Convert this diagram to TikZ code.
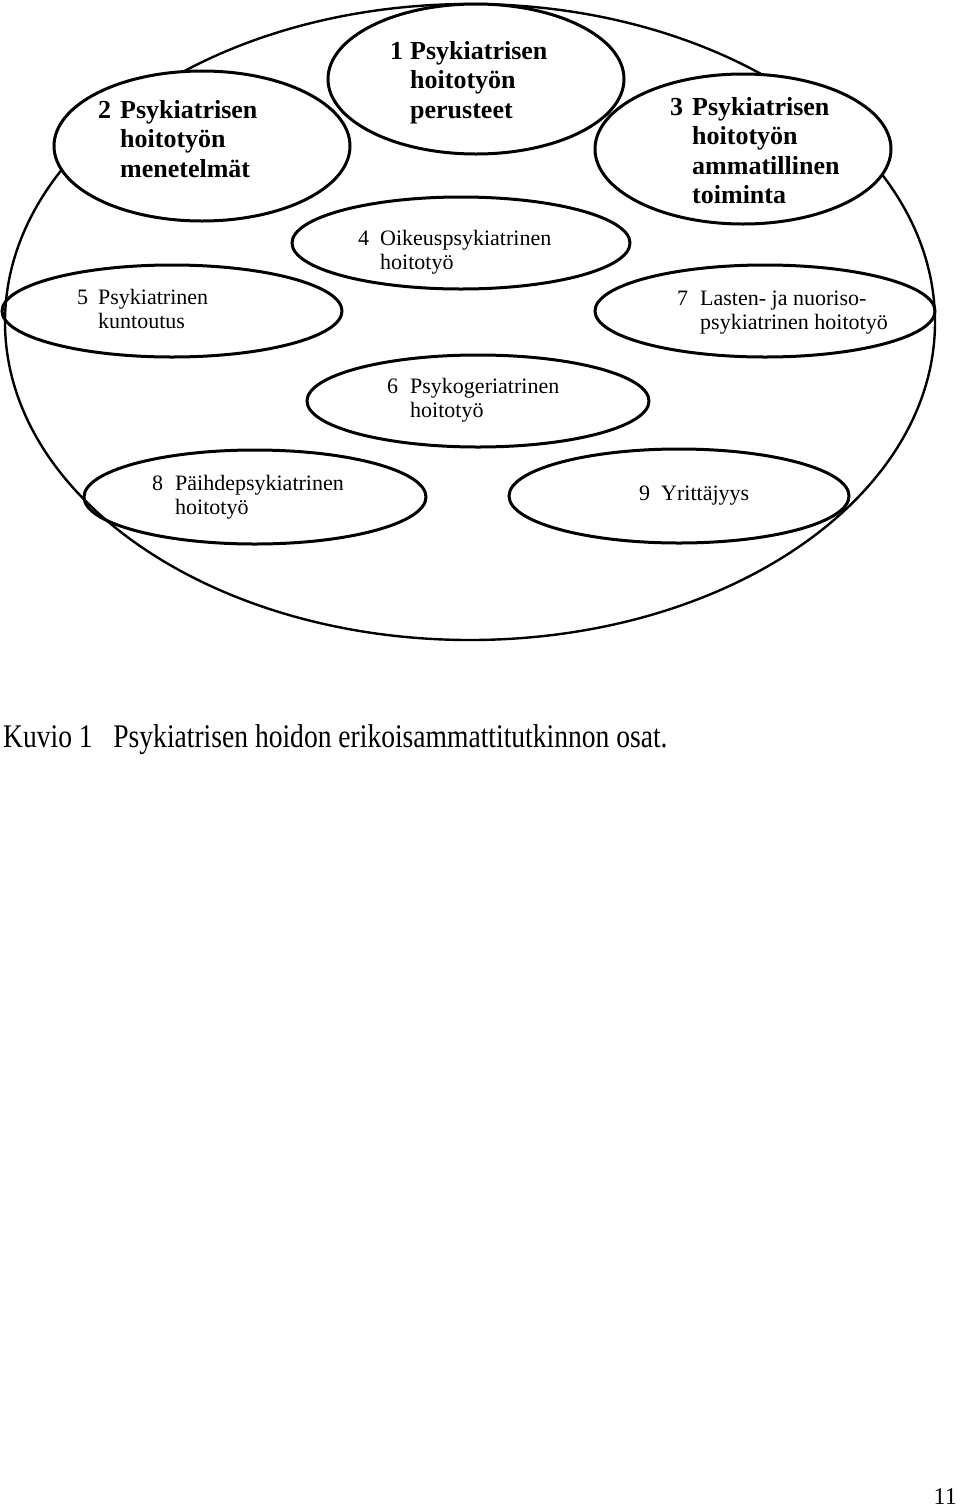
\documentclass[tikz,border=0pt]{standalone}
\usepackage{fontspec}
\setmainfont{Liberation Serif}
\usetikzlibrary{shapes.geometric}
\tikzset{
  bigring/.style={draw, ellipse, line width=2.4pt, inner sep=0pt},
  topic/.style={draw, ellipse, line width=3pt, inner sep=0pt},
  boldtxt/.style={anchor=base west, inner sep=0pt, font=\fontsize{26}{29.5}\selectfont\bfseries},
  plaintxt/.style={anchor=base west, inner sep=0pt, font=\fontsize{22}{24}\selectfont},
}
\begin{document}
\begin{tikzpicture}[x=1pt,y=-1pt]
\useasboundingbox (0,0) rectangle (960,1508);
% outer ring
\node[bigring, minimum width=930pt, minimum height=636pt] (ring) at (470,322) {};
% topic ellipses
\node[topic, fill=white, minimum width=296pt, minimum height=150pt] (e1) at (476,79) {};
\node[topic, fill=white, minimum width=296pt, minimum height=150pt] (e2) at (202,146) {};
\node[topic, fill=white, minimum width=296pt, minimum height=150pt] (e3) at (743,149) {};
\node[topic, minimum width=338pt, minimum height=92pt] (e4) at (461,243) {};
\node[topic, minimum width=340pt, minimum height=92pt] (e5) at (172,311) {};
\node[topic, minimum width=340pt, minimum height=92pt] (e7) at (765,311) {};
\node[topic, minimum width=342pt, minimum height=92pt] (e6) at (478,401) {};
\node[topic, minimum width=342pt, minimum height=94pt] (e8) at (255,497) {};
\node[topic, minimum width=340pt, minimum height=94pt] (e9) at (679,496) {};
% texts
\node[boldtxt] (t1) at (390,59) {\begin{tabular}[t]{@{}p{20pt}@{}l@{}}1&Psykiatrisen\\&hoitotyön\\&perusteet\end{tabular}};
\node[boldtxt] (t2) at (98,118) {\begin{tabular}[t]{@{}p{22pt}@{}l@{}}2&Psykiatrisen\\&hoitotyön\\&menetelmät\end{tabular}};
\node[boldtxt] (t3) at (670,115) {\begin{tabular}[t]{@{}p{22pt}@{}l@{}}3&Psykiatrisen\\&hoitotyön\\&ammatillinen\\&toiminta\end{tabular}};
\node[plaintxt] (t4) at (358,245) {\begin{tabular}[t]{@{}p{22pt}@{}l@{}}4&Oikeuspsykiatrinen\\&hoitotyö\end{tabular}};
\node[plaintxt] (t5) at (77,304) {\begin{tabular}[t]{@{}p{21pt}@{}l@{}}5&Psykiatrinen\\&kuntoutus\end{tabular}};
\node[plaintxt] (t7) at (677,305) {\begin{tabular}[t]{@{}p{23pt}@{}l@{}}7&Lasten- ja nuoriso-\\&psykiatrinen hoitotyö\end{tabular}};
\node[plaintxt] (t6) at (387,393) {\begin{tabular}[t]{@{}p{23pt}@{}l@{}}6&Psykogeriatrinen\\&hoitotyö\end{tabular}};
\node[plaintxt] (t8) at (152,490) {\begin{tabular}[t]{@{}p{23pt}@{}l@{}}8&Päihdepsykiatrinen\\&hoitotyö\end{tabular}};
\node[plaintxt] (t9) at (639,500) {\begin{tabular}[t]{@{}p{22pt}@{}l@{}}9&Yrittäjyys\end{tabular}};
% caption and page number
\node[anchor=base west, inner sep=0pt] (cap) at (3,747) {\scalebox{0.835}[1]{\fontsize{33}{36}\selectfont Kuvio 1\hspace{0.75em}Psykiatrisen hoidon erikoisammattitutkinnon osat.}};
\node[anchor=base east, inner sep=0pt, font=\fontsize{24}{26}\selectfont] (page) at (957,1504) {11};
\end{tikzpicture}
\end{document}
